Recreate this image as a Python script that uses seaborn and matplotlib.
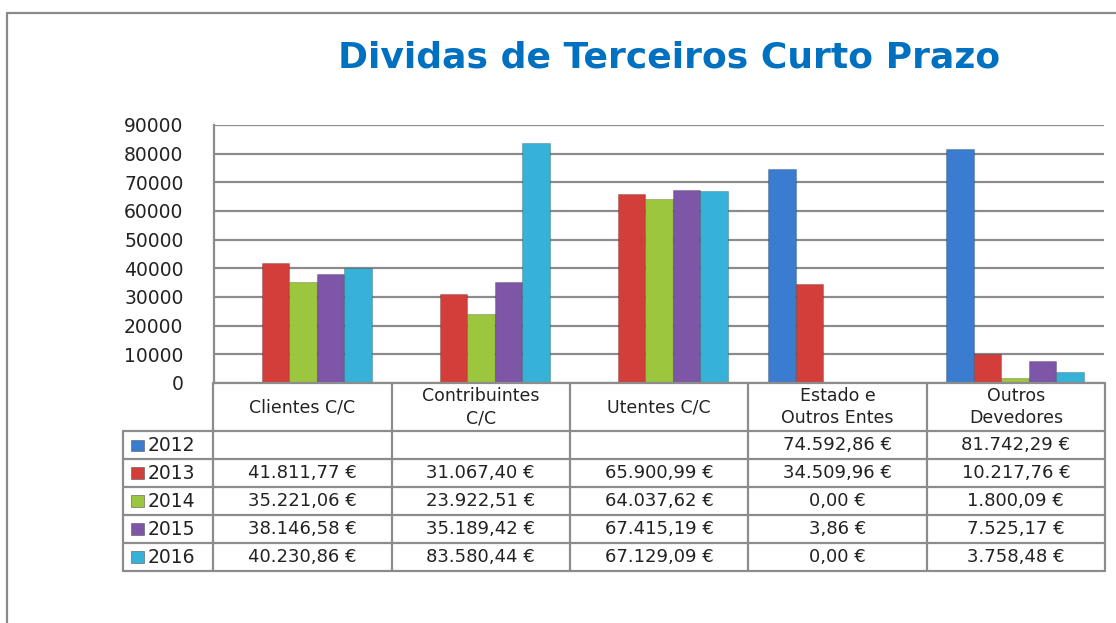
import numpy as np
import pandas as pd
import matplotlib
matplotlib.use("Agg")
import matplotlib.pyplot as plt
import seaborn as sns
from matplotlib.lines import Line2D
from matplotlib.patches import Rectangle

categories = ["Clientes C/C", "Contribuintes\nC/C", "Utentes C/C",
              "Estado e\nOutros Entes", "Outros\nDevedores"]
years = ["2012", "2013", "2014", "2015", "2016"]
v2012 = [np.nan, np.nan, np.nan, 74592.86, 81742.29]
v2013 = [41811.77, 31067.40, 65900.99, 34509.96, 10217.76]
v2014 = [35221.06, 23922.51, 64037.62, 0.00, 1800.09]
v2015 = [38146.58, 35189.42, 67415.19, 3.86, 7525.17]
v2016 = [40230.86, 83580.44, 67129.09, 0.00, 3758.48]
colors = ["#3a7cd0", "#d43e3a", "#9dc63f", "#7d56a8", "#36b2d9"]

series = [v2012, v2013, v2014, v2015, v2016]


def euro(v):
    if np.isnan(v):
        return ""
    s = f"{v:,.2f}".replace(",", "X").replace(".", ",").replace("X", ".")
    return s + " €"


rows = []
for y, vals in zip(years, series):
    for c, v in zip(categories, vals):
        if not np.isnan(v):
            rows.append({"cat": c, "year": y, "value": v})
df = pd.DataFrame(rows)

sns.set_style("white")
plt.rcParams["font.family"] = ["DejaVu Sans"]

W, H = 1116, 623
fig = plt.figure(figsize=(W / 100, H / 100), dpi=100)


def fx(px):
    return px / W


def fy(py):
    return 1 - py / H


grid_c = "#8c8c8c"

# main bar axes
ax = fig.add_axes([fx(214), fy(383), fx(1104) - fx(214), fy(125) - fy(383)])
sns.barplot(data=df, x="cat", y="value", hue="year", order=categories,
            hue_order=years, palette=colors, width=0.77, gap=0,
            saturation=1, errorbar=None, ax=ax, legend=False,
            edgecolor="#00000033", linewidth=0.8, zorder=3)
ax.set_xlim(-0.5, 4.5)
ax.set_ylim(0, 90000)
ax.set_yticks(range(0, 90001, 10000))
ax.yaxis.grid(True, color=grid_c, lw=1.6, zorder=0)
ax.set_axisbelow(True)
ax.set_xticks([])
ax.set_xlabel("")
ax.set_ylabel("")
for side in ["top", "right", "bottom"]:
    ax.spines[side].set_visible(False)
ax.spines["left"].set_color(grid_c)
ax.spines["left"].set_linewidth(1.6)
ax.tick_params(axis="y", direction="out", length=6, width=1.4, color=grid_c,
               labelsize=13.5, labelcolor="#222222", pad=16)

# data table below
tax = fig.add_axes([fx(123), fy(571), fx(1105) - fx(123), fy(383) - fy(571)])
leg_w = 90 / 178
tax.set_xlim(-0.5 - leg_w, 4.5)
hdr = 1.72
tax.set_ylim(hdr + 5, 0)
tax.axis("off")
lw = 1.6
# horizontal lines
tax.plot([-0.5, 4.5], [0, 0], color=grid_c, lw=lw, clip_on=False)
for i in range(6):
    tax.plot([-0.5 - leg_w, 4.5], [hdr + i, hdr + i], color=grid_c, lw=lw,
             clip_on=False)
# vertical lines
tax.plot([-0.5 - leg_w, -0.5 - leg_w], [hdr, hdr + 5], color=grid_c, lw=lw,
         clip_on=False)
for k in range(6):
    tax.plot([k - 0.5, k - 0.5], [0, hdr + 5], color=grid_c, lw=lw,
             clip_on=False)

for k, c in enumerate(categories):
    tax.text(k, hdr / 2, c, ha="center", va="center", fontsize=12.5,
             color="#222222", linespacing=1.3)

for i, (y, vals, col) in enumerate(zip(years, series, colors)):
    yc = hdr + i + 0.5
    tax.add_patch(Rectangle((-0.5 - leg_w + 0.045, yc - 0.2), 0.075, 0.4,
                            facecolor=col, edgecolor="#555555", lw=0.4))
    tax.text(-0.5 - leg_w + 0.14, yc, y, ha="left", va="center",
             fontsize=13.5, color="#222222")
    for k, v in enumerate(vals):
        tax.text(k, yc, euro(v), ha="center", va="center", fontsize=13,
                 color="#222222")

fig.text(fx(669), fy(58), "Dividas de Terceiros Curto Prazo",
         ha="center", va="center", fontsize=26, fontweight="bold",
         color="#0070c0")

# outer chart frame
fig.add_artist(Line2D([fx(7), 1], [fy(13), fy(13)], color="#8a8a8a", lw=1.6))
fig.add_artist(Line2D([fx(7), fx(7)], [fy(13), 0], color="#8a8a8a", lw=1.6))

fig.savefig("out.png", dpi=100)
